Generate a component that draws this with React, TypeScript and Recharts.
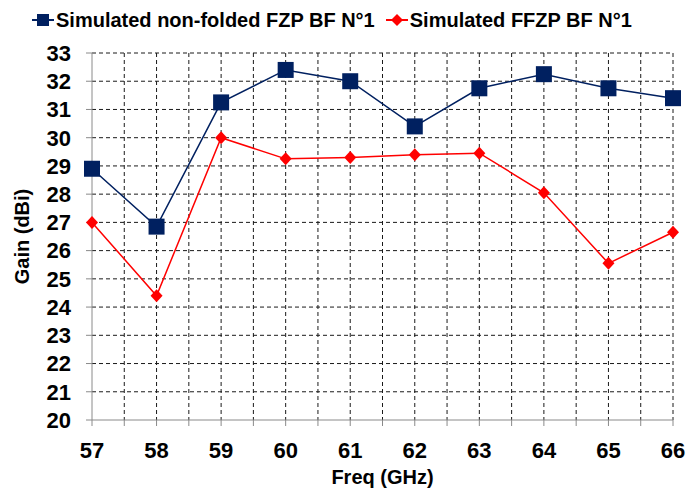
import { LineChart, Line, XAxis, YAxis, CartesianGrid, Legend } from 'recharts'

const freqs = [57, 58, 59, 60, 61, 62, 63, 64, 65, 66]
const nonFoldedGain = [28.9, 26.85, 31.25, 32.4, 32.0, 30.4, 31.75, 32.25, 31.75, 31.4]
const foldedGain = [27.0, 24.4, 30.0, 29.25, 29.3, 29.4, 29.45, 28.05, 25.55, 26.65]

const xTicks = [57, 57.5, 58, 58.5, 59, 59.5, 60, 60.5, 61, 61.5, 62, 62.5, 63, 63.5, 64, 64.5, 65, 65.5, 66]
const xGrid = [57.5, 58, 58.5, 59, 59.5, 60, 60.5, 61, 61.5, 62, 62.5, 63, 63.5, 64, 64.5, 65, 65.5, 66]
const yTicks = [20, 21, 22, 23, 24, 25, 26, 27, 28, 29, 30, 31, 32, 33]
const yGrid = [21, 22, 23, 24, 25, 26, 27, 28, 29, 30, 31, 32, 33]

const NAVY = '#002060'
const RED = '#ff0000'
const AXIS = '#8a8a8a'
const FONT = '"Liberation Sans", Arial, sans-serif'

const data = freqs.map((f, i) => ({
  freq: f,
  nonFolded: nonFoldedGain[i],
  folded: foldedGain[i],
}))

const SquareDot = (props: any) => {
  const { cx, cy } = props
  if (cx == null || cy == null) return null
  return <rect x={cx - 8} y={cy - 8} width={16} height={16} fill={NAVY} />
}

const DiamondDot = (props: any) => {
  const { cx, cy } = props
  if (cx == null || cy == null) return null
  return <polygon points={`${cx},${cy - 6.5} ${cx + 6},${cy} ${cx},${cy + 6.5} ${cx - 6},${cy}`} fill={RED} />
}

const legendItems = [
  { label: 'Simulated non-folded FZP BF N°1', color: NAVY, shape: 'square' },
  { label: 'Simulated FFZP BF N°1', color: RED, shape: 'diamond' },
]

function ChartLegend() {
  return (
    <div style={{ display: 'flex', alignItems: 'center', fontFamily: FONT, fontWeight: 700, fontSize: 20, lineHeight: '24px', color: '#000', whiteSpace: 'nowrap' }}>
      {legendItems.map((it, i) => (
        <div key={i} style={{ display: 'flex', alignItems: 'center', marginRight: 11 }}>
          <svg width={22} height={20} style={{ marginRight: 2 }}>
            <line x1={0} y1={10} x2={22} y2={10} stroke={it.color} strokeWidth={2} />
            {it.shape === 'square' ? (
              <rect x={5} y={4} width={12} height={12} fill={it.color} />
            ) : (
              <polygon points="11,4 17,10 11,16 5,10" fill={it.color} />
            )}
          </svg>
          <span>{it.label}</span>
        </div>
      ))}
    </div>
  )
}

export default function App() {
  return (
    <div style={{ position: 'absolute', left: 0, top: 0, width: 688, height: 491, background: '#fff' }}>
      <LineChart width={688} height={491} data={data} margin={{ top: 53, right: 15, bottom: 0, left: 0 }}>
        <CartesianGrid
          stroke="#1a1a1a"
          strokeDasharray="4 3"
          verticalValues={xGrid}
          horizontalValues={yGrid}
        />
        <XAxis
          dataKey="freq"
          type="number"
          domain={[57, 66]}
          ticks={xTicks}
          interval={0}
          height={71}
          stroke={AXIS}
          tickSize={6}
          tickMargin={16}
          tick={{ fill: '#000', fontSize: 22, fontWeight: 700, fontFamily: FONT }}
          tickFormatter={(v: number) => (Number.isInteger(v) ? String(v) : '')}
          label={{
            content: ({ viewBox }: any) => (
              <text
                x={viewBox.x + viewBox.width / 2}
                y={viewBox.y + 64}
                textAnchor="middle"
                fontFamily={FONT}
                fontWeight={700}
                fontSize={20}
                fill="#000"
              >
                Freq (GHz)
              </text>
            ),
          }}
        />
        <YAxis
          type="number"
          domain={[20, 33]}
          ticks={yTicks}
          interval={0}
          width={92}
          stroke={AXIS}
          tickSize={6}
          tickMargin={15}
          tick={{ fill: '#000', fontSize: 22, fontWeight: 700, fontFamily: FONT }}
          label={{
            content: ({ viewBox }: any) => {
              const x = viewBox.x + 29
              const y = viewBox.y + viewBox.height / 2
              return (
                <text
                  x={x}
                  y={y}
                  transform={`rotate(-90, ${x}, ${y})`}
                  textAnchor="middle"
                  fontFamily={FONT}
                  fontWeight={700}
                  fontSize={20}
                  fill="#000"
                >
                  Gain (dBi)
                </text>
              )
            },
          }}
        />
        <Legend
          layout="horizontal"
          verticalAlign="middle"
          align="center"
          content={() => <ChartLegend />}
          wrapperStyle={{ top: 8, left: 32, width: 'auto' }}
        />
        <Line
          dataKey="nonFolded"
          name="Simulated non-folded FZP BF N°1"
          stroke={NAVY}
          strokeWidth={1.5}
          dot={<SquareDot />}
          activeDot={false}
          isAnimationActive={false}
        />
        <Line
          dataKey="folded"
          name="Simulated FFZP BF N°1"
          stroke={RED}
          strokeWidth={1.5}
          dot={<DiamondDot />}
          activeDot={false}
          isAnimationActive={false}
        />
      </LineChart>
    </div>
  )
}
